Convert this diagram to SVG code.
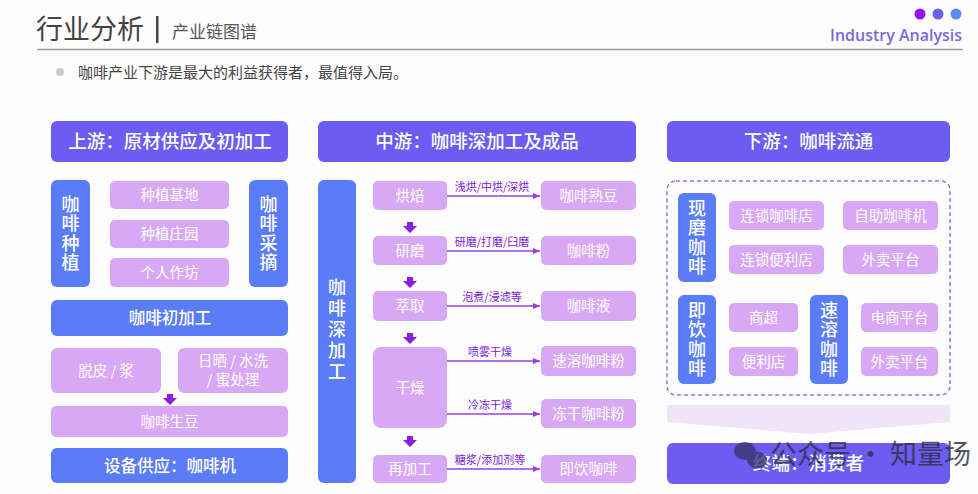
<svg xmlns="http://www.w3.org/2000/svg" width="978" height="494" viewBox="0 0 978 494">
<defs>
<style>
text{font-family:"Noto Sans CJK SC","Noto Sans",sans-serif;}
.hdr{fill:#6d5cf2;}
.blue{fill:#5a7cf6;}
.pink{fill:#d9a8f5;}
.w{fill:#fff;text-anchor:middle;}
.h18{font-size:18.5px;font-weight:500;}
.b17{font-size:16.5px;font-weight:500;}
.v{font-size:18px;writing-mode:vertical-rl;letter-spacing:1.5px;font-weight:500;}
.v5{letter-spacing:3px;}
.p{font-size:14.5px;}
.lbl{font-size:11px;fill:#7a22d6;text-anchor:middle;}
.con{stroke:#9a3ee3;stroke-width:1.3;fill:none;marker-end:url(#ah);}
.da{fill:#8a1fe0;}
</style>
<marker id="ah" markerWidth="8" markerHeight="8" refX="7" refY="4" orient="auto" markerUnits="userSpaceOnUse">
<path d="M0,1 L7,4 L0,7 z" fill="#9a3ee3"/>
</marker>
</defs>
<rect width="978" height="494" fill="#fdfdfd"/>

<g id="header">
<text x="36" y="39" font-size="27" fill="#444">行业分析</text>
<rect x="156" y="16" width="2.5" height="27" fill="#444"/>
<text x="172" y="38" font-size="17" fill="#555">产业链图谱</text>
<line x1="37" y1="49.5" x2="963" y2="49.5" stroke="#9a9a9a" stroke-width="1.5"/>
<circle cx="920" cy="14" r="5.5" fill="#9b12f0"/>
<circle cx="938" cy="14" r="5.5" fill="#6a62ec"/>
<circle cx="956" cy="14" r="5.5" fill="#5b8cf2"/>
<text x="962" y="41" font-size="16" font-weight="600" fill="#7a6ad8" text-anchor="end" style="font-family:'Open Sans','Noto Sans',sans-serif">Industry Analysis</text>
<circle cx="60" cy="72" r="4" fill="#c8c8c8"/>
<text x="78" y="78" font-size="15" fill="#444">咖啡产业下游是最大的利益获得者，最值得入局。</text>
</g>

<g id="connectors">
<path class="con" d="M447,196 H540"/>
<path class="con" d="M447,251 H540"/>
<path class="con" d="M447,306 H540"/>
<path class="con" d="M447,361 H540"/>
<path class="con" d="M447,414 H540"/>
<path class="con" d="M447,469 H540"/>
<path class="da" d="M167,394 h6 v4 h4 l-7,7 l-7,-7 h4 z"/>
<path class="da" d="M407,222 h6 v4 h4 l-7,7 l-7,-7 h4 z"/>
<path class="da" d="M407,277 h6 v4 h4 l-7,7 l-7,-7 h4 z"/>
<path class="da" d="M407,333 h6 v4 h4 l-7,7 l-7,-7 h4 z"/>
<path class="da" d="M407,436 h6 v4 h4 l-7,7 l-7,-7 h4 z"/>
<text class="lbl" x="492" y="191">浅烘/中烘/深烘</text>
<text class="lbl" x="492" y="246">研磨/打磨/臼磨</text>
<text class="lbl" x="492" y="301">泡煮/浸滤等</text>
<text class="lbl" x="490" y="356">喷雾干燥</text>
<text class="lbl" x="490" y="409">冷冻干燥</text>
<text class="lbl" x="490" y="464">糖浆/添加剂等</text>
</g>

<g id="up-header"><rect class="hdr" x="51" y="121" width="237" height="41" rx="6"/><text class="w h18" x="170" y="148">上游：原材供应及初加工</text></g>
<g id="up-plant"><rect class="blue" x="51" y="180" width="39" height="107" rx="6"/><text class="w v" x="70.5" y="234">咖啡种植</text></g>
<g id="up-base"><rect class="pink" x="110" y="181" width="119" height="28" rx="5"/><text class="w p" x="169.5" y="200">种植基地</text></g>
<g id="up-estate"><rect class="pink" x="110" y="220" width="119" height="28" rx="5"/><text class="w p" x="169.5" y="239">种植庄园</text></g>
<g id="up-workshop"><rect class="pink" x="110" y="258" width="119" height="29" rx="5"/><text class="w p" x="169.5" y="278">个人作坊</text></g>
<g id="up-pick"><rect class="blue" x="249" y="180" width="39" height="107" rx="6"/><text class="w v" x="268.5" y="234">咖啡采摘</text></g>
<g id="up-process"><rect class="blue" x="51" y="300" width="237" height="36" rx="6"/><text class="w b17" x="170" y="324">咖啡初加工</text></g>
<g id="up-peel"><rect class="pink" x="51" y="348" width="110" height="45" rx="6"/><text class="w p" x="106" y="376">脱皮 / 浆</text></g>
<g id="up-dry"><rect class="pink" x="178" y="348" width="110" height="45" rx="6"/><text class="w p" x="233" y="366">日晒 / 水洗<tspan x="233" dy="19">/ 蜜处理</tspan></text></g>
<g id="up-green"><rect class="pink" x="51" y="406" width="237" height="31" rx="5"/><text class="w p" x="169.5" y="427">咖啡生豆</text></g>
<g id="up-equip"><rect class="blue" x="51" y="448" width="237" height="35" rx="6"/><text class="w b17" x="170" y="472">设备供应：咖啡机</text></g>

<g id="mid-header"><rect class="hdr" x="318" y="121" width="318" height="41" rx="6"/><text class="w h18" x="477" y="148">中游：咖啡深加工及成品</text></g>
<g id="mid-deep"><rect class="blue" x="318" y="180" width="38" height="303" rx="6"/><text class="w v v5" x="337" y="331">咖啡深加工</text></g>
<g id="mid-roast"><rect class="pink" x="373" y="181" width="74" height="29" rx="5"/><text class="w p" x="410" y="201">烘焙</text></g>
<g id="mid-grind"><rect class="pink" x="373" y="236" width="74" height="29" rx="5"/><text class="w p" x="410" y="256">研磨</text></g>
<g id="mid-extract"><rect class="pink" x="373" y="291" width="74" height="30" rx="5"/><text class="w p" x="410" y="311">萃取</text></g>
<g id="mid-drying"><rect class="pink" x="373" y="347" width="74" height="81" rx="8"/><text class="w p" x="410" y="393">干燥</text></g>
<g id="mid-reprocess"><rect class="pink" x="373" y="455" width="74" height="28" rx="5"/><text class="w p" x="410" y="474">再加工</text></g>
<g id="mid-beans"><rect class="pink" x="541" y="181" width="95" height="29" rx="5"/><text class="w p" x="588.5" y="201">咖啡熟豆</text></g>
<g id="mid-powder"><rect class="pink" x="541" y="236" width="95" height="29" rx="5"/><text class="w p" x="588.5" y="256">咖啡粉</text></g>
<g id="mid-liquid"><rect class="pink" x="541" y="291" width="95" height="30" rx="5"/><text class="w p" x="588.5" y="311">咖啡液</text></g>
<g id="mid-instant"><rect class="pink" x="541" y="346" width="95" height="30" rx="5"/><text class="w p" x="588.5" y="366">速溶咖啡粉</text></g>
<g id="mid-freeze"><rect class="pink" x="541" y="399" width="95" height="29" rx="5"/><text class="w p" x="588.5" y="419">冻干咖啡粉</text></g>
<g id="mid-rtd"><rect class="pink" x="541" y="455" width="95" height="28" rx="5"/><text class="w p" x="588.5" y="474">即饮咖啡</text></g>

<g id="down-header"><rect class="hdr" x="667" y="121" width="283" height="41" rx="6"/><text class="w h18" x="808.5" y="148">下游：咖啡流通</text></g>
<g id="down-frame"><rect x="667" y="181" width="283" height="214" rx="9" fill="none" stroke="#a86ae0" stroke-width="1.5" stroke-dasharray="4 3"/></g>
<g id="down-fresh"><rect class="blue" x="678" y="193" width="38" height="89" rx="6"/><text class="w v" x="697" y="238">现磨咖啡</text></g>
<g id="down-chain"><rect class="pink" x="729" y="201" width="95" height="29" rx="5"/><text class="w p" x="776.5" y="221">连锁咖啡店</text></g>
<g id="down-self"><rect class="pink" x="843" y="201" width="95" height="29" rx="5"/><text class="w p" x="890.5" y="221">自助咖啡机</text></g>
<g id="down-conv"><rect class="pink" x="729" y="245" width="95" height="29" rx="5"/><text class="w p" x="776.5" y="265">连锁便利店</text></g>
<g id="down-delivery1"><rect class="pink" x="843" y="245" width="95" height="29" rx="5"/><text class="w p" x="890.5" y="265">外卖平台</text></g>
<g id="down-rtd"><rect class="blue" x="678" y="295" width="38" height="89" rx="6"/><text class="w v" x="697" y="340">即饮咖啡</text></g>
<g id="down-super"><rect class="pink" x="729" y="303" width="69" height="29" rx="5"/><text class="w p" x="763.5" y="323">商超</text></g>
<g id="down-store"><rect class="pink" x="729" y="347" width="69" height="29" rx="5"/><text class="w p" x="763.5" y="367">便利店</text></g>
<g id="down-instant"><rect class="blue" x="810" y="295" width="38" height="89" rx="6"/><text class="w v" x="829" y="340">速溶咖啡</text></g>
<g id="down-ecom"><rect class="pink" x="861" y="303" width="77" height="29" rx="5"/><text class="w p" x="899.5" y="323">电商平台</text></g>
<g id="down-delivery2"><rect class="pink" x="861" y="347" width="77" height="29" rx="5"/><text class="w p" x="899.5" y="367">外卖平台</text></g>
<g id="down-arrow"><path d="M667,405 H950 V422 L808.5,434 L667,422 Z" fill="#f0e4f8"/></g>
<g id="down-consumer"><rect class="hdr" x="667" y="443" width="283" height="41" rx="6"/><text class="w h18" x="808.5" y="470">终端：消费者</text></g>

<g id="watermark" opacity="0.8">
<ellipse cx="745" cy="451" rx="11" ry="9" fill="#3a3470"/>
<ellipse cx="757" cy="460" rx="10" ry="8.5" fill="#3a3470"/>
<text x="770" y="464" font-size="27" fill="#2e2e3e">公众号 · 知量场</text>
</g>
</svg>
